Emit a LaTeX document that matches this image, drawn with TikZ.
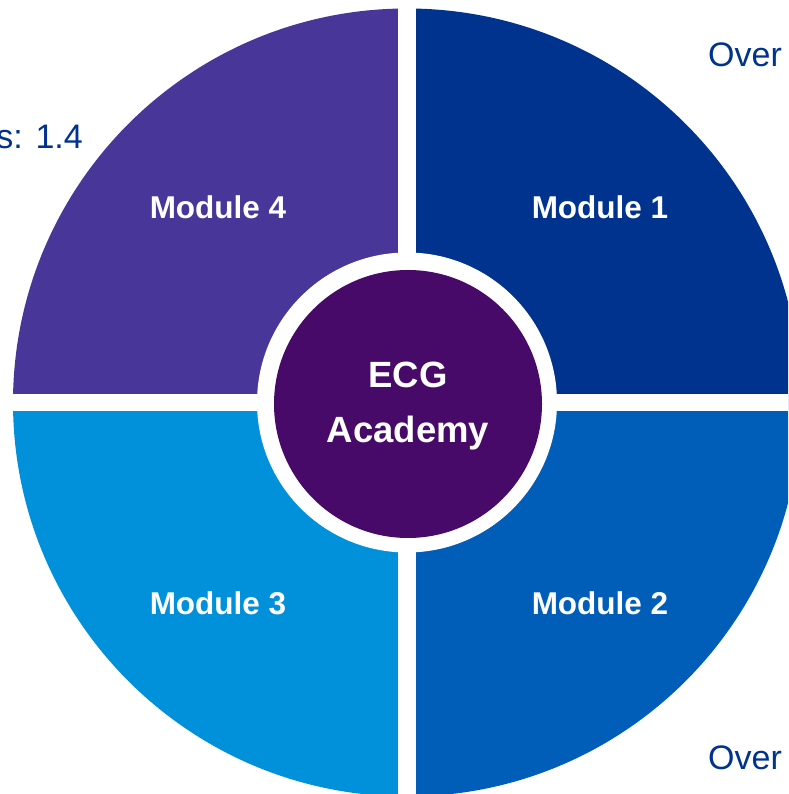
\documentclass[tikz,border=0pt]{standalone}
\usepackage{fontspec}
\setmainfont{Liberation Sans}
\definecolor{kblue}{HTML}{00338D}
\definecolor{kmed}{HTML}{005EB8}
\definecolor{klight}{HTML}{0091DA}
\definecolor{kviolet}{HTML}{483698}
\definecolor{kpurple}{HTML}{470A68}
\tikzset{
  modlabel/.style={text=white,font=\bfseries\fontsize{31.5}{38}\selectfont,inner sep=0pt},
  sidetext/.style={text=kblue,font=\fontsize{34}{40}\selectfont,inner sep=0pt},
}
\begin{document}
\begin{tikzpicture}[x=1pt,y=1pt]
\useasboundingbox (0,0) rectangle (788,794);
\clip (0,0) rectangle (788,794);
\coordinate (c) at (407,391.5);
\def\R{394}
\fill[kblue]   (c) -- ++(0:\R)   arc[start angle=0,end angle=90,radius=\R] -- cycle;
\fill[kviolet] (c) -- ++(90:\R)  arc[start angle=90,end angle=180,radius=\R] -- cycle;
\fill[klight]  (c) -- ++(180:\R) arc[start angle=180,end angle=270,radius=\R] -- cycle;
\fill[kmed]    (c) -- ++(270:\R) arc[start angle=270,end angle=360,radius=\R] -- cycle;
\fill[white] (398,0) rectangle (416,794);
\fill[white] (0,383) rectangle (788,400);
\fill[white] (c) circle[radius=150];
\node[circle,fill=kpurple,minimum size=268pt,inner sep=0pt] (hub) at (408,390) {};
\node[text=white,font=\bfseries\fontsize{36.5}{55}\selectfont,align=center,inner sep=0pt] (hubtxt) at (408,387.5) {ECG\\Academy};
\node[modlabel] (m4) at (218,587) {Module 4};
\node[modlabel] (m1) at (600,587) {Module 1};
\node[modlabel] (m3) at (218,191) {Module 3};
\node[modlabel] (m2) at (600,191) {Module 2};
\node[sidetext,anchor=base west] (over1) at (708,727) {Over};
\node[sidetext,anchor=base west] (over2) at (708,24) {Over};
\node[sidetext,anchor=base east] (s14) at (83,645) {s: 1.4};
\end{tikzpicture}
\end{document}
